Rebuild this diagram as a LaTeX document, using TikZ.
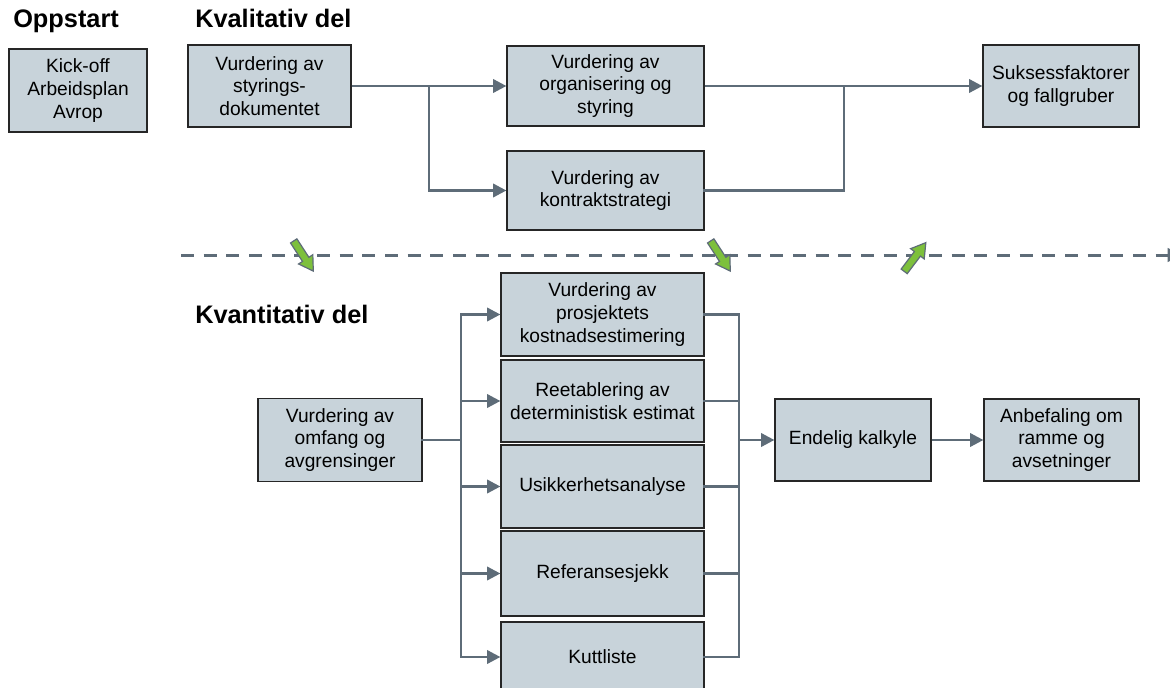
\documentclass[tikz,border=0pt]{standalone}
\usepackage{fontspec}
\setmainfont{Liberation Sans}
\usetikzlibrary{arrows.meta}
\definecolor{boxfill}{RGB}{200,211,218}
\definecolor{conncol}{RGB}{94,108,120}
\definecolor{grn}{RGB}{125,192,60}
\begin{document}
\begin{tikzpicture}[x=0.75pt,y=-0.75pt,
  box/.style={draw=black!85, line width=0.9pt, fill=boxfill, align=center, inner sep=0pt,
    font=\fontsize{14.4pt}{17pt}\selectfont},
  sz/.style 2 args={minimum width={#1*0.75pt}, minimum height={#2*0.75pt}},
  conn/.style={draw=conncol, line width=2pt, line cap=rect},
  arr/.style={draw=conncol, line width=2pt, line cap=butt, -{Triangle[length=10pt,width=10pt]}},
  ttl/.style={anchor=base west, inner sep=0pt, font=\fontsize{19pt}{21pt}\selectfont\bfseries},
  grnarrow/.style={draw=conncol, line width=0.9pt, fill=grn, line join=miter}]
\path[use as bounding box] (0,0) rectangle (1170,688);
\clip (0,0) rectangle (1170,688);

% titles
\node[ttl] (t1) at (13,28) {Oppstart};
\node[ttl] (t2) at (195,28) {Kvalitativ del};
\node[ttl] (t3) at (195,323) {Kvantitativ del};

% top boxes
\node[box, sz={138}{83}] (kick) at (78,90.5) {Kick-off\\Arbeidsplan\\Avrop};
\node[box, sz={163}{82}] (styr) at (269.5,86) {Vurdering av\\styrings-\\dokumentet};
\node[box, sz={197}{80}] (org) at (605.5,86) {Vurdering av\\organisering og\\styring};
\node[box, sz={197}{79}] (kon) at (605.5,190.5) {Vurdering av\\kontraktstrategi};
\node[box, sz={156}{82}] (suk) at (1061,86) {Suksessfaktorer\\og fallgruber};

% bottom boxes
\node[box, sz={164}{83}] (omf) at (340,440) {Vurdering av\\omfang og\\avgrensinger};
\node[box, sz={203}{83}] (kost) at (602.5,314.5) {Vurdering av\\prosjektets\\kostnadsestimering};
\node[box, sz={203}{82}] (reet) at (602.5,401) {Reetablering av\\deterministisk estimat};
\node[box, sz={203}{83}] (usik) at (602.5,486.5) {Usikkerhetsanalyse};
\node[box, sz={203}{85}] (ref) at (602.5,573.5) {Referansesjekk};
\node[box, sz={203}{70}] (kutt) at (602.5,657) {Kuttliste};
\node[box, sz={156}{82}] (end) at (853,440) {Endelig kalkyle};
\node[box, sz={155}{82}] (anb) at (1061.5,440) {Anbefaling om\\ramme og\\avsetninger};

% top connectors
\coordinate (b1) at (429,86);
\coordinate (j1) at (844,86);
\draw[arr] (styr.east) -- (org.west);
\draw[conn] (b1) -- (b1 |- kon.west);
\draw[arr] (b1 |- kon.west) -- (kon.west);
\draw[arr] (org.east) -- (suk.west);
\draw[conn] (kon.east) -| (j1);

% bottom connectors
\coordinate (lb) at (461,440);
\coordinate (rb) at (739,440);
\draw[conn] (omf.east) -- (lb);
\draw[conn] (lb |- kost.west) -- (lb |- kutt.west);
\foreach \n in {kost,reet,usik,ref,kutt}{
  \draw[arr] (lb |- \n.west) -- (\n.west);
  \draw[conn] (\n.east) -- (\n.east -| rb);
}
\draw[conn] (rb |- kost.east) -- (rb |- kutt.east);
\draw[arr] (rb) -- (end.west);
\draw[arr] (end.east) -- (anb.west);

% dashed separator
\coordinate (dl) at (181,255);
\coordinate (dr) at (1181,255);
\draw[draw=conncol, line width=2.25pt, dash pattern=on 9.75pt off 7.25pt,
  -{Triangle[length=10pt,width=10pt]}] (dl) -- (dr);

% green block arrows
\foreach \cx/\cy/\ang in {303.5/256/-57, 720.5/256/-57, 915/257/53}{
  \begin{scope}[shift={(\cx,\cy)}, rotate=\ang]
    \draw[grnarrow] (-18,-3.8) -- (4,-3.8) -- (4,-8.5) -- (18,0) -- (4,8.5) -- (4,3.8) -- (-18,3.8) -- cycle;
  \end{scope}
}
\end{tikzpicture}
\end{document}
